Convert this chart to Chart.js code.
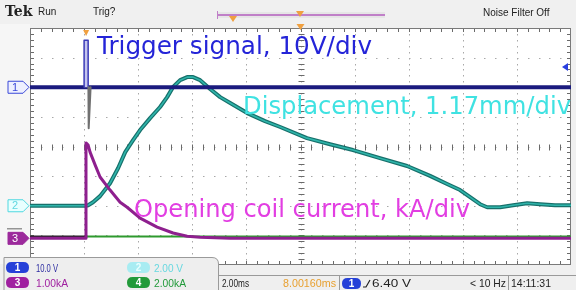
<!DOCTYPE html>
<html><head><meta charset="utf-8">
<script src="https://cdn.jsdelivr.net/npm/chart.js@4.4.1/dist/chart.umd.min.js"></script>
<style>html,body{margin:0;padding:0;background:#f0f0f0;}canvas{display:block}</style>
</head><body>
<canvas id="c" width="576" height="290"></canvas>
<script>
// ---- Horizontal: 2.00 ms/div, time in ms relative to trigger ----
const timeMin = -2, timeMax = 18, msPerDiv = 2;

// ---- Channel settings (scale per division, vertical position in divisions) ----
const unitsPerDiv = { ch1: 10, ch2: 1.17, ch3: 1.0, ch4: 2.0 };
const channelPosition = { ch1: 2, ch2: -2, ch3: -3.1, ch4: -3.04 };

// ---- Ch1: trigger signal (V) ----
const trigBaseT = [-2, 0, 0.22, 18];
const trigBaseV = [0, 0, 0, 0];
const trigPulseT = [0, 0, 0.15, 0.15];
const trigPulseV = [0, 15.9, 15.9, 0];
const trigDipT = [0.16, 0.17, 0.24];
const trigDipV = [0, -13.8, 0];

// ---- Ch2: displacement (mm) ----
const dispT = [-2, 0.07, 0.15, 0.33, 0.59, 0.96, 1.26, 1.52, 1.81, 2.07, 2.44, 2.81, 3.07, 3.29, 3.55, 3.81, 4.03, 4.29, 4.66, 5.03, 5.40, 6.03, 6.69, 7.25, 8.24, 9.09, 9.94, 10.94, 11.94, 12.79, 13.42, 13.90, 14.27, 14.64, 14.90, 15.38, 15.86, 16.38, 16.86, 17.41, 18];
const dispMM = [0, 0, 0.02, 0.14, 0.38, 0.89, 1.49, 2.12, 2.59, 2.99, 3.46, 3.90, 4.29, 4.69, 4.96, 5.08, 5.08, 4.96, 4.61, 4.29, 4.06, 3.66, 3.34, 3.11, 2.67, 2.43, 2.20, 1.88, 1.57, 1.18, 0.86, 0.62, 0.34, 0.06, -0.06, -0.06, 0.02, 0.10, 0.06, 0.02, 0.02];

// ---- Ch3: opening coil current (kA) ----
const curT = [-2, 0.04, 0.07, 0.15, 0.22, 0.41, 0.59, 0.96, 1.33, 1.59, 2.07, 2.70, 3.29, 3.81, 4.29, 5.40, 18];
const curKA = [0, 0, 3.22, 3.15, 2.91, 2.47, 2.07, 1.63, 1.22, 1.05, 0.68, 0.38, 0.18, 0.07, 0.04, 0, 0];

// ---- Ch4 (kA) ----
const ch4T = [-2, 0.1, 18];
const ch4KA = [0, 0, 0];

// ---- Texts ----
const annotTrigger = 'Trigger signal, 10V/div';
const annotDisp = 'Displacement, 1.17mm/div';
const annotCurrent = 'Opening coil current, kA/div';
const readouts = { ch1: '10.0 V', ch2: '2.00 V', ch3: '1.00kA', ch4: '2.00kA',
  timebase: '2.00ms', position: '8.00160ms', trigLevel: '6.40 V', freq: '< 10 Hz', clock: '14:11:31' };

function pts(ts, vs, ch) {
  return ts.map((t, i) => ({ x: t, y: channelPosition[ch] + vs[i] / unitsPerDiv[ch] }));
}

function fitText(ctx, text, x, y, width, font, color) {
  ctx.save();
  ctx.font = font;
  const w = ctx.measureText(text).width;
  ctx.translate(x, y);
  ctx.scale(width / w, 1);
  ctx.fillStyle = color;
  ctx.fillText(text, 0, 0);
  ctx.restore();
}
function rrect(ctx, x, y, w, h, r) {
  ctx.beginPath();
  ctx.moveTo(x + r, y); ctx.lineTo(x + w - r, y); ctx.quadraticCurveTo(x + w, y, x + w, y + r);
  ctx.lineTo(x + w, y + h - r); ctx.quadraticCurveTo(x + w, y + h, x + w - r, y + h);
  ctx.lineTo(x + r, y + h); ctx.quadraticCurveTo(x, y + h, x, y + h - r);
  ctx.lineTo(x, y + r); ctx.quadraticCurveTo(x, y, x + r, y); ctx.closePath();
}
function pill(ctx, x, y, w, h, fill, label, txt) {
  rrect(ctx, x, y, w, h, h / 2); ctx.fillStyle = fill; ctx.fill();
  ctx.fillStyle = txt; ctx.font = 'bold 10px "Liberation Sans"'; ctx.textAlign = 'center'; ctx.textBaseline = 'middle';
  ctx.fillText(label, x + w / 2, y + h / 2 + 0.5);
  ctx.textAlign = 'left'; ctx.textBaseline = 'alphabetic';
}

const tekPlugin = {
  id: 'tek',
  beforeDraw(chart) {
    const { ctx, chartArea: a } = chart;
    ctx.save();
    ctx.fillStyle = '#f0f0f0'; ctx.fillRect(0, 0, chart.width, chart.height);
    ctx.fillStyle = '#f6f6f6'; ctx.fillRect(0, 24, 30, 240);
    ctx.fillStyle = '#ffffff'; ctx.fillRect(a.left, a.top, a.right - a.left, a.bottom - a.top);
    ctx.restore();
  },
  beforeDatasetsDraw(chart) {
    const { ctx, chartArea: a, scales: { x, y } } = chart;
    ctx.save();
    ctx.fillStyle = '#a8a8a8';
    // dotted grid lines
    for (let k = 1; k < 10; k++) {
      const px = Math.round(x.getPixelForValue(timeMin + k * msPerDiv));
      for (let j = 1; j < 40; j++) {
        const py = Math.round(y.getPixelForValue(-4 + j * 0.2));
        ctx.fillRect(px, py, 1, 1.5);
      }
    }
    for (let k = -3; k <= 3; k++) {
      const py = Math.round(y.getPixelForValue(k));
      for (let j = 1; j < 50; j++) {
        const px = Math.round(x.getPixelForValue(timeMin + j * msPerDiv / 5));
        ctx.fillRect(px, py, 1.5, 1);
      }
    }
    // centre cross ticks
    ctx.strokeStyle = '#6a6a6a'; ctx.lineWidth = 1;
    const cx = Math.round(x.getPixelForValue(timeMin + 5 * msPerDiv)) + 0.5;
    const cy = Math.round(y.getPixelForValue(0)) + 0.5;
    ctx.beginPath();
    for (let j = 1; j < 40; j++) {
      const py = Math.round(y.getPixelForValue(-4 + j * 0.2)) + 0.5;
      ctx.moveTo(cx - 3, py); ctx.lineTo(cx + 3, py);
      ctx.moveTo(a.left, py); ctx.lineTo(a.left + 4, py);
      ctx.moveTo(a.right, py); ctx.lineTo(a.right - 4, py);
    }
    for (let j = 1; j < 50; j++) {
      const px = Math.round(x.getPixelForValue(timeMin + j * msPerDiv / 5)) + 0.5;
      ctx.moveTo(px, cy - 3); ctx.lineTo(px, cy + 3);
      ctx.moveTo(px, a.top); ctx.lineTo(px, a.top + 4);
      ctx.moveTo(px, a.bottom); ctx.lineTo(px, a.bottom - 4);
    }
    ctx.stroke();
    ctx.strokeStyle = '#7a7a7a';
    ctx.strokeRect(a.left + 0.5, a.top + 0.5, a.right - a.left - 1, a.bottom - a.top - 1);
    ctx.restore();
  },
  afterDatasetsDraw(chart) {
    const { ctx, chartArea: a, scales: { x, y } } = chart;
    ctx.save();
    // annotations
    fitText(ctx, annotTrigger, 97, 54, 275, '24px "DejaVu Sans"', '#2424d8');
    fitText(ctx, annotDisp, 243, 114, 328, '24px "DejaVu Sans"', '#3fe2e2');
    fitText(ctx, annotCurrent, 134, 217, 336, '24px "DejaVu Sans"', '#e23ee2');
    // trigger position marker
    const tx = x.getPixelForValue(0) + 2;
    ctx.fillStyle = '#f0a040';
    ctx.beginPath(); ctx.moveTo(tx - 3, a.top + 2); ctx.lineTo(tx + 3, a.top + 2); ctx.lineTo(tx, a.top + 8); ctx.closePath(); ctx.fill();
    // expansion marker at top centre
    const mx = x.getPixelForValue(timeMin + 5 * msPerDiv);
    ctx.beginPath(); ctx.moveTo(mx - 4, a.top - 4); ctx.lineTo(mx + 4, a.top - 4); ctx.lineTo(mx, a.top + 2); ctx.closePath(); ctx.fill();
    // right side ch1 arrow
    ctx.fillStyle = '#2a40e0';
    ctx.beginPath(); ctx.moveTo(562, 67); ctx.lineTo(568, 63); ctx.lineTo(568, 71); ctx.closePath(); ctx.fill();
    ctx.restore();
  },
  afterDraw(chart) {
    const { ctx, scales: { y } } = chart;
    ctx.save();
    // top bar
    ctx.fillStyle = '#222';
    ctx.font = 'bold 14px "DejaVu Serif"'; ctx.fillText('Tek', 5, 16);
    ctx.font = '10px "Liberation Sans"'; ctx.fillText('Run', 38, 15);
    ctx.fillText('Trig?', 93, 15);
    ctx.font = '10px "Liberation Sans"'; ctx.fillText('Noise Filter Off', 483, 16);
    ctx.fillStyle = '#e6e6e6'; ctx.fillRect(217, 12, 168, 6);
    ctx.strokeStyle = '#c080c8'; ctx.lineWidth = 2;
    ctx.beginPath(); ctx.moveTo(217, 15); ctx.lineTo(385, 15); ctx.stroke();
    ctx.lineWidth = 1; ctx.beginPath(); ctx.moveTo(217.5, 11); ctx.lineTo(217.5, 19); ctx.stroke();
    ctx.fillStyle = '#f0a040';
    ctx.beginPath(); ctx.moveTo(229, 16); ctx.lineTo(237, 16); ctx.lineTo(233, 22); ctx.closePath(); ctx.fill();
    ctx.beginPath(); ctx.moveTo(296, 11); ctx.lineTo(304, 11); ctx.lineTo(300, 17); ctx.closePath(); ctx.fill();

    // left channel markers
    const m1 = y.getPixelForValue(channelPosition.ch1);
    const m2 = y.getPixelForValue(channelPosition.ch2);
    const m3 = y.getPixelForValue(channelPosition.ch3);
    function marker(cy, fill, stroke, txt, label) {
      ctx.beginPath();
      ctx.moveTo(8, cy - 6); ctx.lineTo(23, cy - 6); ctx.lineTo(29, cy); ctx.lineTo(23, cy + 6); ctx.lineTo(8, cy + 6); ctx.closePath();
      ctx.fillStyle = fill; ctx.fill(); ctx.strokeStyle = stroke; ctx.lineWidth = 1; ctx.stroke();
      ctx.fillStyle = txt; ctx.font = '11px "Liberation Sans"'; ctx.textAlign = 'center'; ctx.textBaseline = 'middle';
      ctx.fillText(label, 15, cy + 0.5); ctx.textAlign = 'left'; ctx.textBaseline = 'alphabetic';
    }
    marker(m1, '#eef0ff', '#3a48d8', '#3a48d8', '1');
    marker(m2, '#e8ffff', '#50d8e0', '#60d8e0', '2');
    marker(m3, '#9c2a9c', '#9c2a9c', '#ffffff', '3');
    ctx.strokeStyle = '#666'; ctx.beginPath(); ctx.moveTo(7, m3 - 9.5); ctx.lineTo(22, m3 - 9.5); ctx.stroke();

    // bottom-right readout strip
    ctx.fillStyle = '#efefef'; ctx.fillRect(218, 275, 358, 15);
    ctx.strokeStyle = '#9a9a9a'; ctx.lineWidth = 1;
    ctx.beginPath();
    ctx.moveTo(218.5, 275); ctx.lineTo(218.5, 290);
    ctx.moveTo(218, 275.5); ctx.lineTo(576, 275.5);
    ctx.moveTo(339.5, 275); ctx.lineTo(339.5, 290);
    ctx.moveTo(508.5, 275); ctx.lineTo(508.5, 290);
    ctx.stroke();
    const rf = '11px "Liberation Sans"';
    fitText(ctx, readouts.timebase, 222, 287, 27, rf, '#222');
    fitText(ctx, readouts.position, 283, 287, 53, rf, '#e8a030');
    pill(ctx, 342, 278, 19, 11, '#2540d8', '1', '#fff');
    ctx.strokeStyle = '#222'; ctx.lineWidth = 1.2;
    ctx.beginPath(); ctx.moveTo(363, 287); ctx.lineTo(366, 287); ctx.lineTo(370, 280); ctx.stroke();
    fitText(ctx, readouts.trigLevel, 372, 287, 39, rf, '#222');
    fitText(ctx, readouts.freq, 470, 287, 36, rf, '#222');
    fitText(ctx, readouts.clock, 511, 287, 40, rf, '#222');

    // bottom-left channel readout box
    ctx.beginPath();
    ctx.moveTo(4, 290); ctx.lineTo(4, 257.5); ctx.lineTo(212, 257.5);
    ctx.quadraticCurveTo(218.5, 257.5, 218.5, 264); ctx.lineTo(218.5, 290);
    ctx.fillStyle = '#eeeeee'; ctx.fill(); ctx.strokeStyle = '#9a9a9a'; ctx.lineWidth = 1; ctx.stroke();
    pill(ctx, 6, 262, 23, 11, '#2540d8', '1', '#fff');
    fitText(ctx, readouts.ch1, 36, 272, 22, rf, '#2a2aa0');
    pill(ctx, 127, 262, 23, 11, '#a8ecf2', '2', '#e8ffff');
    fitText(ctx, readouts.ch2, 154, 272, 29, rf, '#68d8e0');
    pill(ctx, 6, 277, 23, 11, '#a020a0', '3', '#fff');
    fitText(ctx, readouts.ch3, 36, 287, 32, rf, '#a020a0');
    pill(ctx, 127, 277, 23, 11, '#229a3a', '4', '#fff');
    fitText(ctx, readouts.ch4, 154, 287, 32, rf, '#229a3a');
    ctx.restore();
  }
};

new Chart(document.getElementById('c'), {
  type: 'line',
  data: {
    datasets: [
      { data: pts(trigDipT, trigDipV, 'ch1'), borderColor: '#707070', borderWidth: 2, order: 0 },
      { data: pts(trigPulseT, trigPulseV, 'ch1'), borderColor: '#3a3ab8', borderWidth: 1.5,
        fill: { value: channelPosition.ch1 }, backgroundColor: '#c4c4ee', order: 1 },
      { data: pts(trigBaseT, trigBaseV, 'ch1'), borderColor: '#1b1b7e', borderWidth: 4, order: 2 },
      { data: pts(curT, curKA, 'ch3'), borderColor: '#8e1f8e', borderWidth: 3, order: 3 },
      { data: pts(dispT, dispMM, 'ch2'), borderColor: '#2fb5ab', borderWidth: 1.6, order: 4 },
      { data: pts(dispT, dispMM, 'ch2'), borderColor: '#17706b', borderWidth: 4, order: 5 },
      { data: pts(ch4T, ch4KA, 'ch4'), borderColor: '#2e9a2e', borderWidth: 2, order: 6,
        segment: { borderColor: c => (c.p1.parsed.x <= 0.1 ? '#222222' : '#2e9a2e') } }
    ]
  },
  options: {
    responsive: false, animation: false, events: [],
    layout: { padding: { left: 30, right: 5, top: 28, bottom: 25 } },
    elements: { point: { radius: 0 }, line: { tension: 0, borderJoinStyle: 'round', borderCapStyle: 'round' } },
    plugins: { legend: { display: false }, tooltip: { enabled: false } },
    scales: {
      x: { type: 'linear', display: false, min: timeMin, max: timeMax },
      y: { type: 'linear', display: false, min: -4, max: 4 }
    }
  },
  plugins: [tekPlugin]
});
</script>
</body></html>
